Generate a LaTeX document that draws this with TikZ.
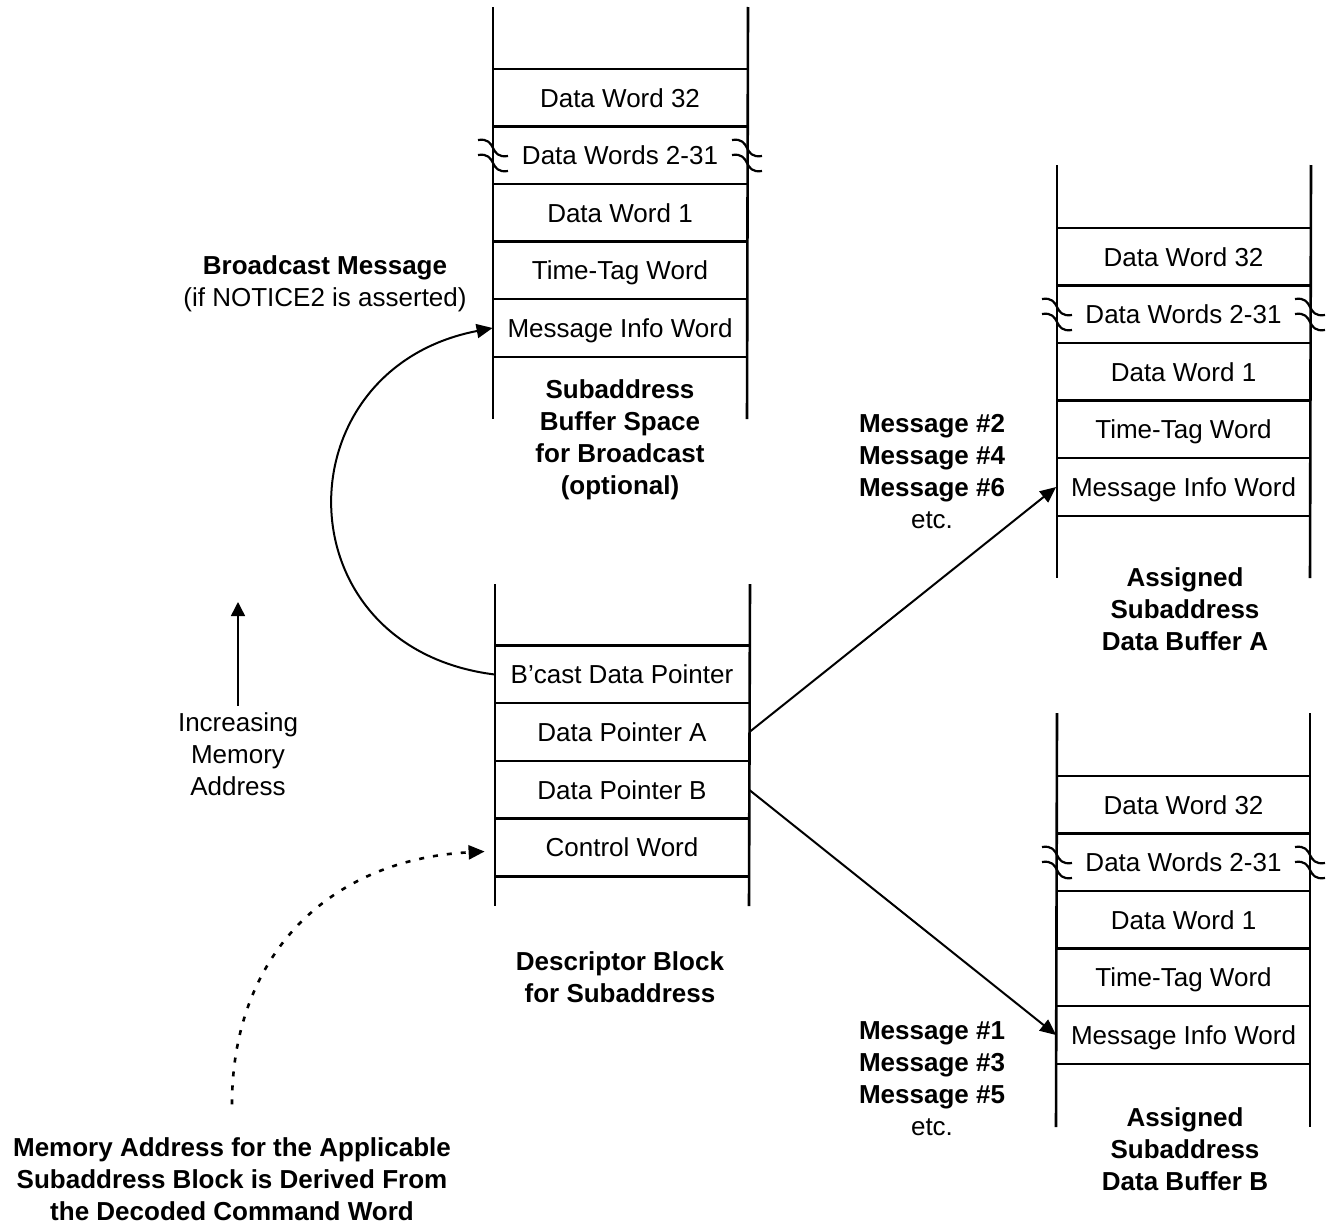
\documentclass[tikz,border=0pt]{standalone}
\usepackage{fontspec}
\setmainfont{Liberation Sans}
\usetikzlibrary{arrows.meta,calc}
\begin{document}
\begin{tikzpicture}[x=0.5pt,y=-0.5pt,
  every node/.style={font=\fontsize{13}{16}\selectfont},
  row/.style={minimum width=127pt, minimum height=28.75pt, inner sep=0pt, text height=9.3pt, text depth=0pt},
  wall/.style={line width=1.3pt},
  sep/.style={line width=1.3pt},
  ptr/.style={line width=1pt, -{Triangle[length=8pt,width=7pt]}},
  upar/.style={line width=0.75pt, -{Triangle[length=7pt,width=7pt]}},
  dotar/.style={line width=1.3pt, dash pattern=on 2.5pt off 4.5pt, -{Triangle[length=8pt,width=7pt]}},
  lbl/.style={align=center, font=\fontsize{13}{16}\selectfont\bfseries},
  plain/.style={align=center},
  brkline/.style={line width=1.1pt},
  brk/.pic={\draw[brkline] (-15,-16) .. controls (5,-19) and (-5,3) .. (15,0);
            \draw[brkline] (-15,-1) .. controls (5,-4) and (-5,18) .. (15,15);}
]
\useasboundingbox (0,0) rectangle (1332,1231);

% ---------- top stack: broadcast buffer ----------
\node[row] (t32) at (620,98) {Data Word 32};
\node[row] (t2) at (620,155.5) {Data Words 2-31};
\node[row] (t1) at (620,213) {Data Word 1};
\node[row] (ttt) at (620,270.5) {Time-Tag Word};
\node[row] (tinfo) at (620,328) {Message Info Word};
\foreach \n in {t32,t2,t1,ttt,tinfo} \draw[sep] (\n.north west) -- (\n.north east);
\draw[sep] (tinfo.south west) -- (tinfo.south east);
\draw[wall] (493,7) -- (493,419);
\draw[wall] (748,7) -- (747,419);
\pic at (493,156) {brk};
\pic at (747,156) {brk};

% ---------- descriptor block ----------
\node[row] (bptr) at (622,674.5) {B’cast Data Pointer};
\node[row] (pa) at (622,732) {Data Pointer A};
\node[row] (pb) at (622,790) {Data Pointer B};
\node[row] (ctl) at (622,847.5) {Control Word};
\foreach \n in {bptr,pa,pb,ctl} \draw[sep] (\n.north west) -- (\n.north east);
\draw[sep] (ctl.south west) -- (ctl.south east);
\draw[wall] (495,584) -- (495,906);
\draw[wall] (750,584) -- (749,906);

% ---------- buffer A ----------
\node[row] (a32) at (1183.5,257) {Data Word 32};
\node[row] (a2) at (1183.5,314.5) {Data Words 2-31};
\node[row] (a1) at (1183.5,372) {Data Word 1};
\node[row] (att) at (1183.5,429.5) {Time-Tag Word};
\node[row] (ainfo) at (1183.5,487) {Message Info Word};
\foreach \n in {a32,a2,a1,att,ainfo} \draw[sep] (\n.north west) -- (\n.north east);
\draw[sep] (ainfo.south west) -- (ainfo.south east);
\draw[wall] (1057,165) -- (1057,578);
\draw[wall] (1311,165) -- (1310,578);
\pic at (1057,315) {brk};
\pic at (1310,315) {brk};

% ---------- buffer B ----------
\node[row] (b32) at (1183.5,805) {Data Word 32};
\node[row] (b2) at (1183.5,862.5) {Data Words 2-31};
\node[row] (b1) at (1183.5,920) {Data Word 1};
\node[row] (btt) at (1183.5,977.5) {Time-Tag Word};
\node[row] (binfo) at (1183.5,1035) {Message Info Word};
\foreach \n in {b32,b2,b1,btt,binfo} \draw[sep] (\n.north west) -- (\n.north east);
\draw[sep] (binfo.south west) -- (binfo.south east);
\draw[wall] (1057,713) -- (1056,1127);
\draw[wall] (1310,713) -- (1310,1127);
\pic at (1057,863) {brk};
\pic at (1310,863) {brk};

% ---------- labels ----------
\node[lbl] (lsub) at (620,440) {Subaddress\\Buffer Space\\for Broadcast\\(optional)};
\node[lbl] (ldesc) at (620,977.5) {Descriptor Block\\for Subaddress};
\node[lbl] (lA) at (1185,609) {Assigned\\Subaddress\\Data Buffer A};
\node[lbl] (lB) at (1185,1149) {Assigned\\Subaddress\\Data Buffer B};
\node[plain] (lbc) at (325,284) {\textbf{Broadcast Message}\\(if NOTICE2 is asserted)};
\node[plain] (lm2) at (932,472) {\textbf{Message \#2}\\\textbf{Message \#4}\\\textbf{Message \#6}\\etc.};
\node[plain] (lm1) at (932,1079) {\textbf{Message \#1}\\\textbf{Message \#3}\\\textbf{Message \#5}\\etc.};
\node[plain] (linc) at (238,754.5) {Increasing\\Memory\\Address};
\node[lbl] (lmem) at (232,1179) {Memory Address for the Applicable\\Subaddress Block is Derived From\\the Decoded Command Word};

% ---------- connectors ----------
\coordinate (inct) at (238,602);
\draw[upar] (linc.north) -- (inct);
\draw[ptr] (bptr.west) .. controls +(-215,-27) and +(-213,41) .. (tinfo.west);
\draw[ptr] (pa.east) -- (ainfo.west);
\draw[ptr] (pb.east) -- (binfo.west);
\draw[dotar] ([yshift=13pt]lmem.north) .. controls +(0,-150) and +(-155,8) .. ([xshift=-5pt,yshift=-2pt]ctl.west);
\end{tikzpicture}
\end{document}
